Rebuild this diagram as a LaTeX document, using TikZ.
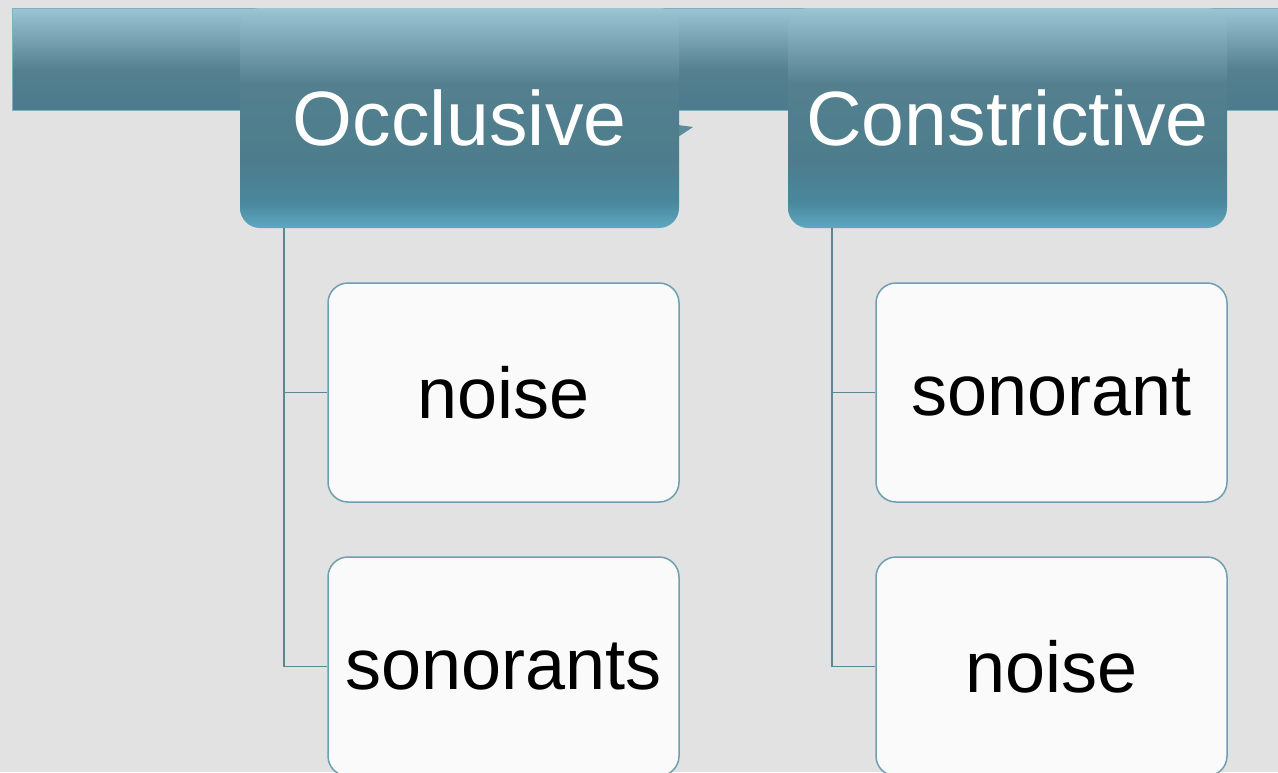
\documentclass[tikz,border=0pt]{standalone}
\usepackage{fontspec}
\setmainfont{Liberation Sans}
\definecolor{bgc}{RGB}{226,226,226}
\definecolor{connc}{RGB}{94,133,149}
\definecolor{childborder}{RGB}{110,159,176}
\definecolor{childfill}{RGB}{250,250,250}
\definecolor{barborder}{RGB}{128,175,194}
\definecolor{tipc}{RGB}{90,140,156}
\pgfdeclareverticalshading{headshade}{100bp}{
  rgb(0bp)=(0.37,0.66,0.76);
  rgb(25bp)=(0.37,0.66,0.76);
  rgb(31bp)=(0.29,0.53,0.61);
  rgb(40bp)=(0.30,0.49,0.55);
  rgb(58bp)=(0.33,0.50,0.56);
  rgb(75bp)=(0.61,0.77,0.83);
  rgb(100bp)=(0.61,0.77,0.83)}
\pgfdeclareverticalshading{barshade}{100bp}{
  rgb(0bp)=(0.30,0.48,0.55);
  rgb(25bp)=(0.30,0.48,0.55);
  rgb(45bp)=(0.33,0.50,0.56);
  rgb(75bp)=(0.61,0.77,0.83);
  rgb(100bp)=(0.61,0.77,0.83)}
\tikzset{
  headbox/.style={shade, shading=headshade, rounded corners=20pt,
    minimum width=439pt, minimum height=220pt, inner sep=0pt,
    text=white, font=\fontsize{77}{80}\selectfont},
  childbox/.style={draw=childborder, line width=1.5pt, fill=childfill,
    rounded corners=20pt, minimum width=351pt, minimum height=219pt,
    inner sep=0pt, text=black, font=\fontsize{72}{76}\selectfont},
  conn/.style={draw=connc, line width=1.5pt},
}
\begin{document}
\begin{tikzpicture}[x=1pt,y=-1pt]
\useasboundingbox (0,0) rectangle (1278,772);
\fill[bgc] (0,0) rectangle (1278,772);
\clip (0,0) rectangle (1278,772);
% top bar
\node[shade, shading=barshade, draw=barborder, line width=1pt,
  minimum width=1290pt, minimum height=102pt, inner sep=0pt,
  anchor=north west] (bar) at (12,8) {};
% small tip
\fill[tipc] (678,125) -- (693,127) -- (678,137) -- cycle;
% headers
\node[headbox] (occ) at (459.5,118) {Occlusive};
\node[headbox] (con) at (1007.5,118) {Constrictive};
% children
\node[childbox] (n1) at (503.5,392.5) {noise};
\node[childbox] (s1) at (503.5,666.5) {sonorants};
\node[childbox] (s2) at (1051.5,392.5) {sonorant};
\node[childbox] (n2) at (1051.5,666.5) {noise};
% connectors
\draw[conn] ([xshift=44pt]occ.south west) |- (n1.west);
\draw[conn] ([xshift=44pt]occ.south west) |- (s1.west);
\draw[conn] ([xshift=44pt]con.south west) |- (s2.west);
\draw[conn] ([xshift=44pt]con.south west) |- (n2.west);
\end{tikzpicture}
\end{document}
